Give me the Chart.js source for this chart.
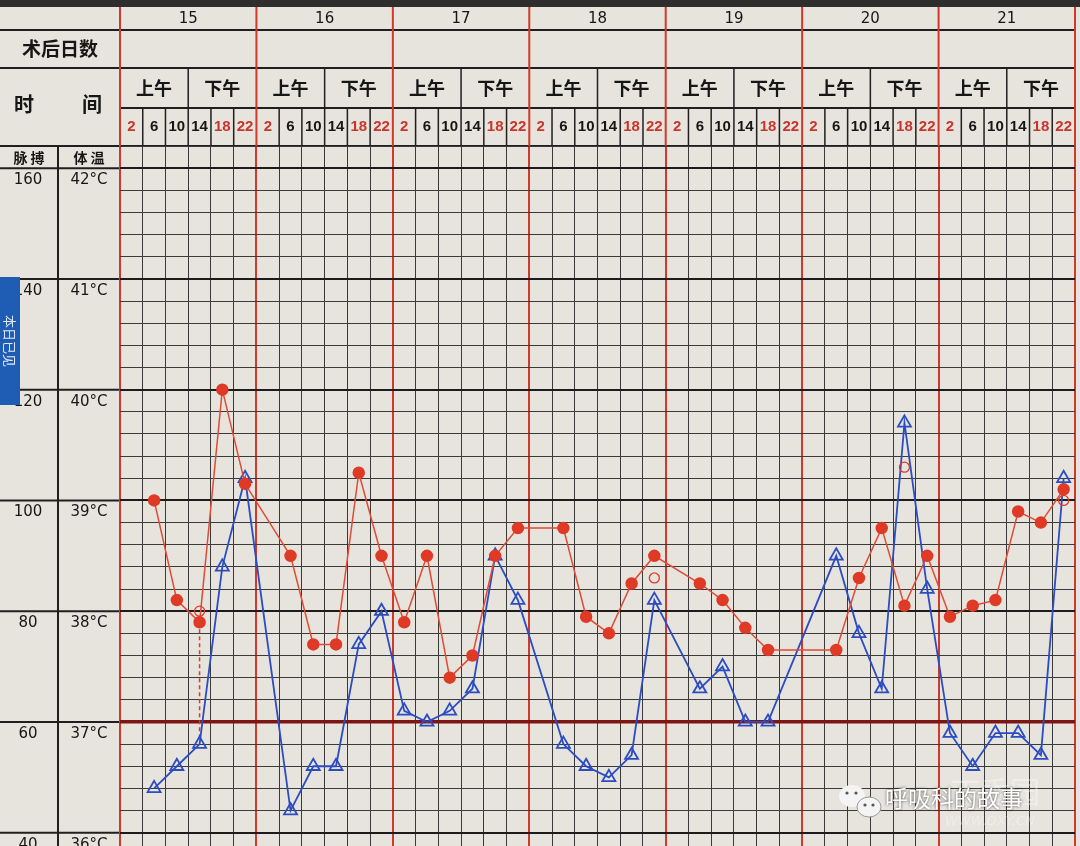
<!DOCTYPE html>
<html lang="zh">
<head>
<meta charset="utf-8">
<title>体温单</title>
<script src="https://cdn.jsdelivr.net/npm/chart.js@4.4.1/dist/chart.umd.min.js"></script>
<style>
  html, body { margin: 0; padding: 0; background: #e5e3dc; }
  canvas { display: block; }
</style>
</head>
<body>
<canvas id="tempChart" width="1080" height="846"></canvas>
<script>
// Encabezados de la hoja
const days = [15, 16, 17, 18, 19, 20, 21];
const halves = ['上午', '下午'];
const hours = [2, 6, 10, 14, 18, 22];
const pulseLabels = [160, 140, 120, 100, 80, 60, 40];
const tempLabels = [42, 41, 40, 39, 38, 37, 36];

// Una columna cada 4 horas (7 días x 6), null = sin medición
const pulse = [
    null, 100, 82, 78, 120, 103,
    null, 90, 74, 74, 105, 90,
    78, 90, 68, 72, 90, 95,
    null, 95, 79, 76, 85, 90,
    null, 85, 82, 77, 73, null,
    null, 73, 86, 95, 81, 90,
    79, 81, 82, 98, 96, 102
];
const temperature = [
    null, 36.4, 36.6, 36.8, 38.4, 39.2,
    null, 36.2, 36.6, 36.6, 37.7, 38.0,
    37.1, 37.0, 37.1, 37.3, 38.5, 38.1,
    null, 36.8, 36.6, 36.5, 36.7, 38.1,
    null, 37.3, 37.5, 37.0, 37.0, null,
    null, 38.5, 37.8, 37.3, 39.7, 38.2,
    36.9, 36.6, 36.9, 36.9, 36.7, 39.2
];
// Círculos huecos (segunda toma)
const pulseRecheck = [
    null, null, null, 80, null, null,
    null, null, null, null, null, null,
    null, null, null, null, null, null,
    null, null, null, null, null, 86,
    null, null, null, null, null, null,
    null, null, null, null, 106, null,
    null, null, null, null, null, 100
];
// Línea punteada en la columna 3
const linkColumn = 3;
const linkValues = [78, 57];

const RED = '#df3a26';
const BLUE = '#2c4cc2';
const BG = '#e6e4dd';

const toPoints = arr => arr
    .map((v, i) => (v === null ? null : { x: i + 0.5, y: v }))
    .filter(Boolean);

const isWhole = v => Math.abs(v - Math.round(v)) < 1e-6;

// Dibujo de la cabecera, columna izquierda y marca de agua
const sheetPlugin = {
    id: 'sheet',
    beforeDraw(chart) {
        const ctx = chart.ctx;
        const xs = chart.scales.x;
        const yT = chart.scales.yT;
        const yP = chart.scales.yP;
        const W = chart.width;
        const H = chart.height;
        const rowDay = 30, rowPost = 68, rowHalf = 108, rowHour = 146;

        ctx.save();
        ctx.fillStyle = BG;
        ctx.fillRect(0, 0, W, H);
        ctx.fillStyle = '#2e2e2e';
        ctx.fillRect(0, 0, W, 7);

        // Líneas horizontales de la cabecera
        ctx.strokeStyle = '#1f1f1f';
        ctx.lineWidth = 2;
        const hLine = (x1, x2, y) => {
            ctx.beginPath(); ctx.moveTo(x1, y); ctx.lineTo(x2, y); ctx.stroke();
        };
        hLine(0, xs.right, rowDay);
        hLine(0, xs.right, rowPost);
        hLine(xs.left, xs.right, rowHalf);
        hLine(0, xs.right, rowHour);

        // Columna izquierda: líneas de grados enteros
        tempLabels.forEach(t => {
            const y = yT.getPixelForValue(t);
            if (y <= H) hLine(0, xs.left, y);
        });
        ctx.beginPath(); ctx.moveTo(58, rowHour); ctx.lineTo(58, H); ctx.stroke();

        // Separadores de horas y de medio día
        ctx.lineWidth = 1.5;
        for (let i = 0; i <= days.length * hours.length; i++) {
            const x = xs.getPixelForValue(i);
            if (i % 6 === 0) continue;
            const top = i % 3 === 0 ? rowPost : rowHalf;
            ctx.beginPath(); ctx.moveTo(x, top); ctx.lineTo(x, rowHour); ctx.stroke();
        }
        // Líneas rojas de día en la cabecera
        ctx.strokeStyle = '#d2382b';
        ctx.lineWidth = 2;
        for (let d = 0; d <= days.length; d++) {
            const x = xs.getPixelForValue(d * 6);
            ctx.beginPath(); ctx.moveTo(x, 7); ctx.lineTo(x, rowHour); ctx.stroke();
        }

        // Textos
        ctx.textAlign = 'center';
        ctx.textBaseline = 'middle';
        ctx.fillStyle = '#161616';
        ctx.font = '15px "DejaVu Sans"';
        days.forEach((d, i) => {
            ctx.fillText(String(d), xs.getPixelForValue(i * 6 + 3), 19);
        });
        ctx.font = 'bold 19px "Noto Sans CJK SC"';
        ctx.fillText('术后日数', 60, 49);
        ctx.font = 'bold 20px "Noto Sans CJK SC"';
        ctx.fillText('时', 24, 104);
        ctx.fillText('间', 92, 104);
        ctx.font = 'bold 18px "Noto Sans CJK SC"';
        days.forEach((d, i) => {
            halves.forEach((h, j) => {
                ctx.fillText(h, xs.getPixelForValue(i * 6 + j * 3 + 1.5), 88);
            });
        });
        ctx.font = 'bold 15px "Liberation Sans"';
        days.forEach((d, i) => {
            hours.forEach((h, j) => {
                ctx.fillStyle = (h === 2 || h >= 18) ? '#c8352c' : '#161616';
                ctx.fillText(String(h), xs.getPixelForValue(i * 6 + j + 0.5), 127);
            });
        });
        ctx.fillStyle = '#161616';
        ctx.font = 'bold 14px "Noto Sans CJK SC"';
        ctx.fillText('脉 搏', 29, 158);
        ctx.fillText('体 温', 89, 158);

        // Etiquetas de pulso y temperatura
        ctx.font = '15px "DejaVu Sans"';
        pulseLabels.forEach(p => {
            const y = yP.getPixelForValue(p) + 12;
            if (y < H + 6) ctx.fillText(String(p), 28, y);
        });
        tempLabels.forEach(t => {
            const y = yT.getPixelForValue(t) + 12;
            if (y < H + 6) ctx.fillText(t + '°C', 89, y);
        });

        // Recuadro azul lateral
        ctx.fillStyle = '#1f5db5';
        ctx.fillRect(0, 277, 20, 128);
        ctx.save();
        ctx.translate(10, 341);
        ctx.rotate(Math.PI / 2);
        ctx.fillStyle = '#dfe8f6';
        ctx.font = '13px "Noto Sans CJK SC"';
        ctx.fillText('本日已见', 0, 0);
        ctx.restore();
        ctx.restore();
    },
    afterDraw(chart) {
        const ctx = chart.ctx;
        ctx.save();
        // Marca de agua
        ctx.fillStyle = 'rgba(255,255,255,0.35)';
        ctx.font = 'italic 13px "DejaVu Sans"';
        ctx.textAlign = 'left';
        ctx.textBaseline = 'middle';
        ctx.fillText('WWW.DXY.CN', 945, 822);
        ctx.font = '30px "Noto Sans CJK SC"';
        ctx.fillText('丁香园', 950, 792);

        // Icono de chat
        ctx.fillStyle = '#f4f4f4';
        ctx.beginPath(); ctx.ellipse(852, 796, 13, 11, 0, 0, Math.PI * 2); ctx.fill();
        ctx.strokeStyle = '#9a9a9a'; ctx.lineWidth = 1;
        ctx.beginPath(); ctx.ellipse(869, 807, 12, 10, 0, 0, Math.PI * 2); ctx.fill(); ctx.stroke();
        ctx.fillStyle = '#555';
        [[847, 793], [856, 793], [865, 805], [873, 805]].forEach(([x, y]) => {
            ctx.beginPath(); ctx.arc(x, y, 1.6, 0, Math.PI * 2); ctx.fill();
        });

        ctx.font = '23px "Noto Sans CJK SC"';
        ctx.shadowColor = 'rgba(0,0,0,0.7)';
        ctx.shadowBlur = 3;
        ctx.fillStyle = '#ffffff';
        ctx.fillText('呼吸科的故事', 885, 798);
        ctx.restore();
    }
};

const ctx = document.getElementById('tempChart').getContext('2d');

new Chart(ctx, {
    type: 'line',
    data: {
        datasets: [
            {
                label: '脉搏',
                data: toPoints(pulse),
                yAxisID: 'yP',
                borderColor: '#e04b36',
                borderWidth: 1.5,
                pointStyle: 'circle',
                pointRadius: 5.5,
                pointBackgroundColor: RED,
                pointBorderColor: RED,
                tension: 0,
                order: 1
            },
            {
                label: '体温',
                data: toPoints(temperature),
                yAxisID: 'yT',
                borderColor: BLUE,
                borderWidth: 1.8,
                pointStyle: 'triangle',
                pointRadius: 7.5,
                pointBorderWidth: 1.8,
                pointBackgroundColor: 'rgba(0,0,0,0)',
                pointBorderColor: BLUE,
                tension: 0,
                order: 2
            },
            {
                label: '复测',
                data: toPoints(pulseRecheck),
                yAxisID: 'yP',
                showLine: false,
                pointStyle: 'circle',
                pointRadius: 5,
                pointBorderWidth: 1.3,
                pointBackgroundColor: 'rgba(0,0,0,0)',
                pointBorderColor: RED,
                order: 0
            },
            {
                label: '连线',
                data: linkValues.map(v => ({ x: linkColumn + 0.5, y: v })),
                yAxisID: 'yP',
                borderColor: RED,
                borderWidth: 1.5,
                borderDash: [4, 3],
                pointRadius: 0,
                order: 3
            }
        ]
    },
    options: {
        responsive: false,
        animation: false,
        devicePixelRatio: 1,
        layout: { autoPadding: false, padding: { top: 146, left: 120, right: 5, bottom: 0 } },
        plugins: {
            legend: { display: false },
            tooltip: { enabled: false }
        },
        scales: {
            x: {
                type: 'linear',
                min: 0,
                max: days.length * hours.length,
                afterFit: scale => { scale.height = 0; },
                ticks: { display: false, stepSize: 1 },
                grid: {
                    drawTicks: false,
                    color: c => (c.tick.value % 6 === 0 ? '#d2382b' : '#3a3a3a'),
                    lineWidth: c => (c.tick.value % 6 === 0 ? 2 : 1)
                },
                border: { display: false }
            },
            yT: {
                type: 'linear',
                position: 'left',
                min: 35.88,
                max: 42.2,
                afterFit: scale => { scale.width = 0; },
                afterBuildTicks: scale => {
                    const ticks = [];
                    for (let k = 180; k <= 211; k++) ticks.push({ value: k / 5 });
                    scale.ticks = ticks;
                },
                ticks: { display: false },
                grid: {
                    drawTicks: false,
                    color: c => {
                        const v = c.tick.value;
                        if (Math.abs(v - 37) < 1e-6) return '#7e1515';
                        return isWhole(v) ? '#1c1c1c' : '#3a3a3a';
                    },
                    lineWidth: c => {
                        const v = c.tick.value;
                        if (Math.abs(v - 37) < 1e-6) return 3.5;
                        return isWhole(v) ? 2 : 1;
                    }
                },
                border: { display: false }
            },
            yP: {
                type: 'linear',
                display: false,
                min: 37.6,
                max: 164
            }
        }
    },
    plugins: [sheetPlugin]
});
</script>
</body>
</html>
